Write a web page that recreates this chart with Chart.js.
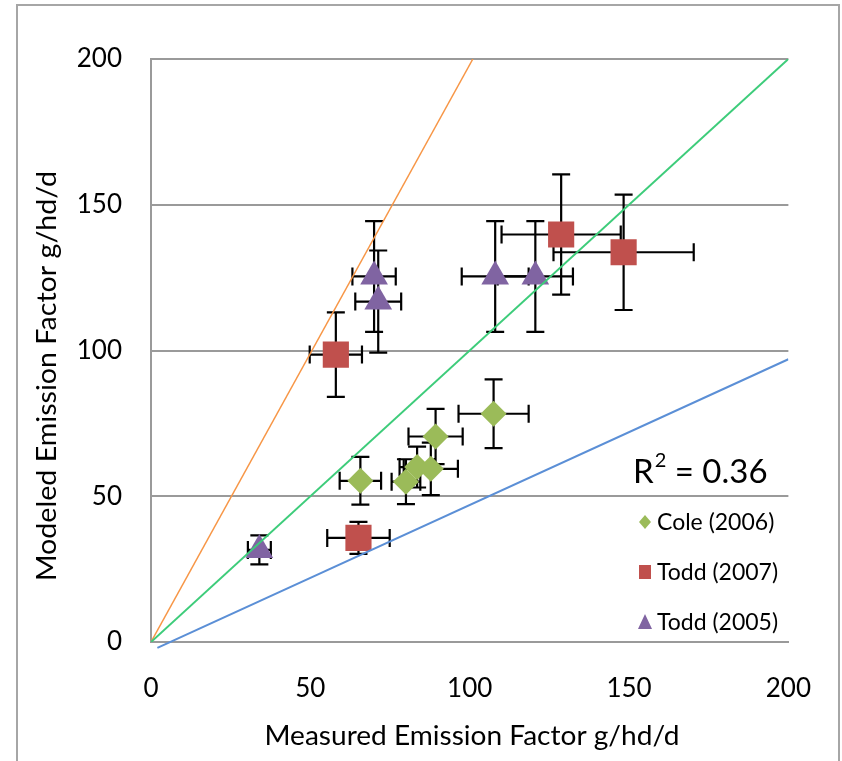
<!DOCTYPE html>
<html lang="en">
<head>
<meta charset="UTF-8">
<script src="https://cdn.jsdelivr.net/npm/chart.js"></script>
<title>Modeled vs Measured Emission Factor</title>
<style>
  html, body { margin: 0; padding: 0; background: #fff; }
  #wrap { width: 842px; height: 761px; }
</style>
</head>
<body>
<div id="wrap"><canvas id="efChart" width="842" height="761"></canvas></div>
<script>
// Cole (2006)
const coleX = [65.7, 80, 83.5, 87.8, 89.3, 107.5];
const coleY = [55.3, 55, 60, 59.4, 70.5, 78.3];
const coleXErr = [6.5, 4.5, 5.5, 8.5, 8.5, 11];
const coleYErr = [8.2, 7.7, 7, 9, 9.5, 11.8];

// Todd (2007)
const todd07X = [58, 128.7, 148.3, 65.1];
const todd07Y = [98.6, 139.8, 133.7, 35.7];
const todd07XErr = [8.2, 18.7, 22, 9.8];
const todd07YErr = [14.5, 20.6, 19.8, 5.5];

// Todd (2005)
const todd05X = [70, 71.3, 108, 120.6, 34];
const todd05Y = [125.4, 116.8, 125.4, 125.4, 31.6];
const todd05XErr = [6.8, 7.2, 10.5, 11.8, 3.6];
const todd05YErr = [19, 17.5, 19, 19, 5];

// reference lines
const lineOneToOne = [{x: 0, y: 0}, {x: 200, y: 200}];
const lineUpper = [{x: 0, y: 0}, {x: 101, y: 200}];
const lineLower = [{x: 2, y: -2}, {x: 200, y: 97}];

const axisTicks = [0, 50, 100, 150, 200];
const rSquared = '0.36';
const xTitle = 'Measured Emission Factor g/hd/d';
const yTitle = 'Modeled Emission Factor g/hd/d';

const FONT = 'Lato, "Liberation Sans", sans-serif';

function pts(xs, ys, xe, ye) {
  return xs.map((x, i) => ({x: x, y: ys[i], xe: xe[i], ye: ye[i]}));
}

// text stretched to a given width
function fitText(ctx, text, x, y, width) {
  ctx.save();
  ctx.translate(x, y);
  ctx.scale(width / ctx.measureText(text).width, 1);
  ctx.fillText(text, 0, 0);
  ctx.restore();
}

// error bars under the markers
const errorBars = {
  id: 'errorBars',
  beforeDatasetsDraw(chart) {
    const ctx = chart.ctx;
    const xs = chart.scales.x, ys = chart.scales.y;
    const cap = 9;
    ctx.save();
    ctx.strokeStyle = '#000';
    ctx.lineWidth = 2.2;
    chart.data.datasets.forEach(ds => {
      if (!ds.errors) return;
      ds.data.forEach(p => {
        const cx = xs.getPixelForValue(p.x), cy = ys.getPixelForValue(p.y);
        const x0 = xs.getPixelForValue(p.x - p.xe), x1 = xs.getPixelForValue(p.x + p.xe);
        const y0 = ys.getPixelForValue(p.y - p.ye), y1 = ys.getPixelForValue(p.y + p.ye);
        ctx.beginPath();
        ctx.moveTo(x0, cy); ctx.lineTo(x1, cy);
        ctx.moveTo(x0, cy - cap); ctx.lineTo(x0, cy + cap);
        ctx.moveTo(x1, cy - cap); ctx.lineTo(x1, cy + cap);
        ctx.moveTo(cx, y0); ctx.lineTo(cx, y1);
        ctx.moveTo(cx - cap, y0); ctx.lineTo(cx + cap, y0);
        ctx.moveTo(cx - cap, y1); ctx.lineTo(cx + cap, y1);
        ctx.stroke();
      });
    });
    ctx.restore();
  }
};

// frame, axis titles, R² and the legend box
const decorations = {
  id: 'decorations',
  afterDraw(chart) {
    const ctx = chart.ctx;
    ctx.save();
    ctx.strokeStyle = '#a6a6a6';
    ctx.lineWidth = 2;
    ctx.strokeRect(17, 5, 822, 770);

    ctx.fillStyle = '#000';
    ctx.textBaseline = 'middle';

    // axis titles
    ctx.textAlign = 'center';
    ctx.font = '26px ' + FONT;
    fitText(ctx, xTitle, 472, 737, 415);

    ctx.save();
    ctx.translate(48, 376);
    ctx.rotate(-Math.PI / 2);
    fitText(ctx, yTitle, 0, 0, 410);
    ctx.restore();

    // R²
    ctx.textAlign = 'left';
    ctx.font = '33px ' + FONT;
    let x = 633;
    ctx.fillText('R', x, 472);
    x += ctx.measureText('R').width;
    ctx.font = '20px ' + FONT;
    ctx.fillText('2', x + 1, 461);
    x += ctx.measureText('2').width + 1;
    ctx.font = '33px ' + FONT;
    ctx.fillText(' = ' + rSquared, x, 472);

    // legend
    const items = chart.data.datasets.filter(d => d.errors);
    ctx.font = '23px ' + FONT;
    items.forEach((d, i) => {
      const ly = 522 + i * 50, lx = 645;
      ctx.fillStyle = d.backgroundColor;
      ctx.beginPath();
      if (d.pointStyle === 'rectRot') {
        ctx.moveTo(lx, ly - 7); ctx.lineTo(lx + 6, ly); ctx.lineTo(lx, ly + 7); ctx.lineTo(lx - 6, ly);
      } else if (d.pointStyle === 'rect') {
        ctx.rect(lx - 6, ly - 7, 12, 14);
      } else {
        ctx.moveTo(lx, ly - 8); ctx.lineTo(lx + 7, ly + 7); ctx.lineTo(lx - 7, ly + 7);
      }
      ctx.closePath();
      ctx.fill();
      ctx.fillStyle = '#000';
      ctx.fillText(d.label, 657, ly + 1);
    });
    ctx.restore();
  }
};

const ctx = document.getElementById('efChart').getContext('2d');

new Chart(ctx, {
  type: 'scatter',
  data: {
    datasets: [
      {label: '1:1', data: lineOneToOne, showLine: true, borderColor: '#3dcc7a', borderWidth: 2, pointRadius: 0, fill: false},
      {label: 'upper', data: lineUpper, showLine: true, borderColor: '#f79646', borderWidth: 1.5, pointRadius: 0, fill: false},
      {label: 'lower', data: lineLower, showLine: true, borderColor: '#5b8fd6', borderWidth: 2, pointRadius: 0, fill: false,
        clip: {left: 0, top: 0, right: 0, bottom: 10}},
      {label: 'Cole (2006)', errors: true, data: pts(coleX, coleY, coleXErr, coleYErr),
        pointStyle: 'rectRot', pointRadius: 13, backgroundColor: '#9bbb59', borderColor: '#9bbb59', borderWidth: 0},
      {label: 'Todd (2007)', errors: true, data: pts(todd07X, todd07Y, todd07XErr, todd07YErr),
        pointStyle: 'rect', pointRadius: 18.5, backgroundColor: '#c0504d', borderColor: '#c0504d', borderWidth: 0},
      {label: 'Todd (2005)', errors: true, data: pts(todd05X, todd05Y, todd05XErr, todd05YErr),
        pointStyle: 'triangle', pointRadius: 16, backgroundColor: '#8064a2', borderColor: '#8064a2', borderWidth: 0}
    ]
  },
  options: {
    responsive: false,
    animation: false,
    events: [],
    layout: {padding: {left: 0, right: 52, top: 59, bottom: 0}},
    plugins: {
      legend: {display: false},
      tooltip: {enabled: false}
    },
    scales: {
      x: {
        type: 'linear', min: 0, max: 200,
        afterBuildTicks: s => { s.ticks = axisTicks.map(v => ({value: v})); },
        afterFit: s => { s.height = 119; },
        grid: {display: false, drawTicks: false},
        border: {display: true, color: '#9a9a9a', width: 2},
        ticks: {padding: 31, color: '#000', font: {family: FONT, size: 26}}
      },
      y: {
        type: 'linear', min: 0, max: 200,
        afterBuildTicks: s => { s.ticks = axisTicks.map(v => ({value: v})); },
        afterFit: s => { s.width = 151; },
        grid: {color: '#9a9a9a', lineWidth: 2, drawTicks: false},
        border: {display: true, color: '#9a9a9a', width: 2},
        ticks: {padding: 29, color: '#000', font: {family: FONT, size: 26}}
      }
    }
  },
  plugins: [errorBars, decorations]
});
</script>
</body>
</html>
